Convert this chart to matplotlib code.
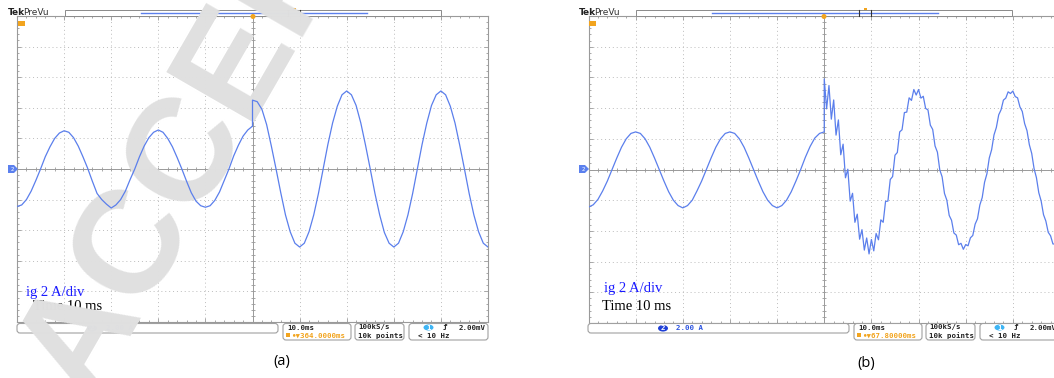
import numpy as np
import matplotlib.pyplot as plt
from matplotlib import transforms
from matplotlib.patches import FancyBboxPatch, Rectangle, Polygon, Ellipse, Circle

W, H = 1054, 378

# time axis in ms (10 ms/div), grid current ig in A (2 A/div)
t_pre = np.arange(-50, 1)
t_post_a = np.arange(0, 51)
t_post_b = np.arange(0, 50.5, 0.5)   # finer steps to keep the ripple after the step

ig_a_pre = [-2.45, -2.35, -2.0, -1.45, -0.75, 0.0, 0.8, 1.45, 2.0, 2.35,
            2.5, 2.4, 2.05, 1.5, 0.8, 0.05, -0.8, -1.6, -2.0, -2.3,
            -2.55, -2.35, -2.0, -1.45, -0.7, 0.0, 0.8, 1.5, 2.05, 2.4,
            2.55, 2.4, 2.0, 1.45, 0.75, 0.0, -0.8, -1.55, -2.1, -2.4,
            -2.5, -2.4, -2.05, -1.5, -0.75, 0.0, 0.85, 1.55, 2.15, 2.55,
            2.8]
ig_a_post = [4.5, 4.4, 3.9, 2.9, 1.5, 0.0, -1.55, -3.0, -4.1, -4.85,
             -5.1, -4.85, -4.1, -3.0, -1.6, 0.0, 1.6, 3.0, 4.1, 4.85,
             5.1, 4.85, 4.15, 3.0, 1.55, 0.0, -1.6, -3.0, -4.15, -4.85,
             -5.1, -4.85, -4.1, -3.0, -1.6, 0.0, 1.6, 3.0, 4.15, 4.85,
             5.1, 4.85, 4.1, 3.0, 1.55, 0.0, -1.6, -3.0, -4.1, -4.85,
             -5.1]

ig_b_pre = [-2.45, -2.3, -1.95, -1.4, -0.75, 0.0, 0.75, 1.45, 2.0, 2.35,
            2.45, 2.35, 2.0, 1.45, 0.75, 0.0, -0.75, -1.45, -2.0, -2.35,
            -2.5, -2.35, -2.0, -1.4, -0.75, 0.0, 0.75, 1.45, 2.0, 2.35,
            2.45, 2.35, 2.0, 1.45, 0.75, 0.0, -0.75, -1.45, -2.0, -2.35,
            -2.5, -2.35, -2.0, -1.45, -0.75, 0.0, 0.8, 1.5, 2.05, 2.35,
            2.45]
ig_b_post = [5.9, 3.95, 5.47, 3.28, 4.53, 2.24, 3.23, 0.96, 1.65, -0.54,
             0.02, -2.06, -1.55, -3.44, -2.91, -4.54, -3.92, -5.25, -4.46, -5.5,
             -4.56, -5.3, -4.17, -4.58, -3.28, -3.44, -2.08, -2.06, -0.65, -0.46,
             0.93, 1.11, 2.45, 2.59, 3.71, 3.74, 4.67, 4.5, 5.21, 4.85,
             5.21, 4.65, 4.77, 3.98, 3.88, 2.89, 2.61, 1.53, 1.13, -0.02,
             -0.48, -1.56, -2.0, -2.99, -3.31, -4.14, -4.27, -4.9, -4.81, -5.2,
             -4.89, -4.97, -4.45, -4.3, -3.56, -3.21, -2.31, -1.83, -0.83, -0.28,
             0.75, 1.29, 2.25, 2.74, 3.56, 3.89, 4.52, 4.65, 5.06, 4.95,
             5.11, 4.75, 4.67, 4.08, 3.78, 2.99, 2.53, 1.61, 1.05, 0.06,
             -0.53, -1.51, -2.05, -2.94, -3.36, -4.09, -4.32, -4.85, -4.86, -5.15,
             -4.91]

trig_a = "364.0000ms"
trig_b = "67.80000ms"

GRID = '#9a9a9a'
TRACE = '#5b7fec'
ORANGE = '#f2a41e'
MONO = ['DejaVu Sans Mono', 'DejaVu Sans']

fig = plt.figure(figsize=(W / 100, H / 100), dpi=100)
# pixel coordinates, origin top-left
px = transforms.Affine2D().scale(1 / W, -1 / H).translate(0, 1) + fig.transFigure


def graticule(ax):
    ax.set_xlim(-50, 50)
    ax.set_ylim(-10, 10)
    ax.set_autoscale_on(False)
    ax.set_xticks(np.arange(-50, 51, 10))
    ax.set_yticks(np.arange(-10, 11, 2))
    ax.set_xticks(np.arange(-50, 51, 2), minor=True)
    ax.set_yticks(np.arange(-10, 10.1, 0.4), minor=True)
    ax.tick_params(which='both', direction='in', top=True, right=True,
                   labelbottom=False, labelleft=False, color=GRID, width=0.6)
    ax.tick_params(which='major', length=3)
    ax.tick_params(which='minor', length=1.6)
    ax.grid(True, which='major', color='#bcbcbc', ls=(0, (1, 3)), lw=0.7)
    for s in ax.spines.values():
        s.set_color(GRID)
        s.set_linewidth(0.8)
    ax.axhline(0, color=GRID, lw=0.7, zorder=1.6)
    ax.axvline(0, color=GRID, lw=0.7, zorder=1.6)
    xs = np.arange(-50, 51, 2)
    ys = np.arange(-10, 10.1, 0.4)
    ax.plot(xs, np.zeros_like(xs), ls='none', marker='|', ms=3, mew=0.6, color=GRID, zorder=1.6)
    ax.plot(np.zeros_like(ys), ys, ls='none', marker='_', ms=3, mew=0.6, color=GRID, zorder=1.6)


def decorations(ax, dx, trig, shown_ch2=True):
    kw = dict(transform=px, clip_on=False)
    # top bar
    ax.text(8 + dx, 12.5, "Tek", fontsize=6.5, weight='bold', color='#222', va='center', **kw)
    ax.text(23 + dx, 12.5, "PreVu", fontsize=6.5, color='#333', va='center', **kw)
    ax.add_patch(Rectangle((65 + dx, 9.5), 376, 6.5, fc='white', ec='#8a8a8a', lw=0.7, zorder=2.55, **kw))
    ax.plot([141 + dx, 367 + dx], [12.5, 12.5], color=TRACE, lw=1, zorder=2.56, **kw)
    ax.plot([288 + dx, 288 + dx], [9.5, 16], color='#333', lw=0.8, zorder=2.57, **kw)
    ax.plot([300 + dx, 300 + dx], [9.5, 16], color='#333', lw=0.8, zorder=2.57, **kw)
    ax.add_patch(Rectangle((293 + dx, 7.5), 2.5, 2, fc=ORANGE, ec='none', zorder=2.57, **kw))
    ax.add_patch(Circle((253 + dx, 16.5), 2.5, fc=ORANGE, ec='none', zorder=2.57, **kw))
    ax.add_patch(Rectangle((18 + dx, 21), 7, 5, fc=ORANGE, ec='none', zorder=2.57, **kw))
    # channel 2 ground marker
    ax.add_patch(Polygon([(8 + dx, 165), (14 + dx, 165), (18 + dx, 169), (14 + dx, 173), (8 + dx, 173)],
                         closed=True, fc='#5b80ee', ec='none', zorder=2.57, **kw))
    ax.text(12 + dx, 169.3, "2", fontsize=4, color='white', ha='center', va='center', zorder=2.58, **kw)

    # bottom readouts
    boxes = [(17, 323.5, 261, 9.5), (283, 323.5, 68, 16.5), (355, 323.5, 49, 16.5), (409, 323.5, 79, 16.5)]
    for (x, y, w, h) in boxes:
        ax.add_patch(FancyBboxPatch((x + dx, y), w, h, boxstyle="round,pad=0,rounding_size=3",
                                    fc='white', ec='#a0a0a0', lw=0.8, zorder=2.55, **kw))
    tk = dict(fontsize=5.3, family=MONO, weight='bold', va='center', zorder=2.57)
    if shown_ch2:
        ax.add_patch(Ellipse((92 + dx, 328.3), 10, 6.5, fc='#1f3fd6', ec='none', zorder=2.56, **kw))
        ax.text(92 + dx, 328.5, "2", color='white', ha='center', **tk, **kw)
        ax.text(105.5 + dx, 328.5, "2.00 A", color='#2a52e0', **tk, **kw)
    ax.text(287 + dx, 327.5, "10.0ms", color='#222', **tk, **kw)
    ax.add_patch(Rectangle((286 + dx, 333), 4, 4, fc=ORANGE, ec='none', zorder=2.56, **kw))
    ax.text(291 + dx, 335.5, "\u2022\u25bc" + trig, color=ORANGE, **tk, **kw)
    ax.text(358 + dx, 327.5, "100kS/s", color='#222', **tk, **kw)
    ax.text(358 + dx, 335.5, "10k points", color='#222', **tk, **kw)
    ax.add_patch(Ellipse((428.5 + dx, 327.5), 10, 6, fc='#3db5f5', ec='none', zorder=2.56, **kw))
    ax.text(428.5 + dx, 327.7, "1", color='white', ha='center', **tk, **kw)
    ax.text(443 + dx, 327.5, "\u0192", color='#222', **tk, **kw)
    ax.text(486 + dx, 327.5, "2.00mV", color='#222', ha='right', **tk, **kw)
    ax.text(418 + dx, 335.5, "< 10 Hz", color='#222', **tk, **kw)


# ---------------- (a) ----------------
ax_a = fig.add_axes([17 / W, 1 - 322 / H, 471 / W, 306 / H])
graticule(ax_a)
ax_a.plot(np.concatenate([t_pre, t_post_a]), np.concatenate([ig_a_pre, ig_a_post]),
          color=TRACE, lw=0.9, zorder=3)
decorations(ax_a, 0, trig_a)
ax_a.text(26, 292.5, "ig 2 A/div", transform=px, clip_on=False, fontsize=10.5,
          family='Liberation Serif', color='#1a1aff', va='center', zorder=4)
ax_a.text(33, 306.5, "Time 10 ms", transform=px, clip_on=False, fontsize=10.5,
          family='Liberation Serif', color='black', va='center', zorder=2.58)
# "ACCEPTED" watermark of the manuscript
ax_a.text(88, 403, "ACCEPTED", transform=px, clip_on=False, rotation=60, rotation_mode='anchor',
          ha='left', va='baseline', fontsize=106, family='Liberation Sans', weight='bold',
          color='#e0e0e0', zorder=2.9)

# ---------------- (b) ----------------
ax_b = fig.add_axes([588.5 / W, 1 - 323 / H, 471.5 / W, 307 / H])
graticule(ax_b)
ax_b.plot(np.concatenate([t_pre, t_post_b]), np.concatenate([ig_b_pre, ig_b_post]),
          color=TRACE, lw=0.9, zorder=3)
decorations(ax_b, 571, trig_b)
ax_b.text(604, 288.5, "ig 2 A/div", transform=px, clip_on=False, fontsize=10.5,
          family='Liberation Serif', color='#1a1aff', va='center', zorder=4)
ax_b.text(602, 306.5, "Time 10 ms", transform=px, clip_on=False, fontsize=10.5,
          family='Liberation Serif', color='black', va='center', zorder=4)

fig.text(281.5 / W, 1 - 362 / H, "(a)", fontsize=10.5, family='Open Sans', ha='center', va='center')
fig.text(866.5 / W, 1 - 363 / H, "(b)", fontsize=10.5, family='Open Sans', ha='center', va='center')

fig.savefig("out.png", dpi=100)
